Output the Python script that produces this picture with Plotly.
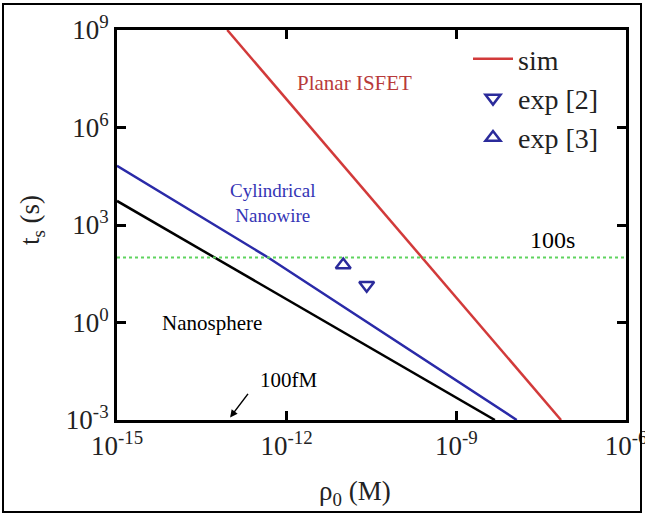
import plotly.graph_objects as go

# Settling time t_s versus analyte concentration rho_0 for three sensor geometries
planar_rho = [8.9e-14, 7.1e-8]
planar_t = [1e9, 1e-3]

cyl_rho = [1e-15, 4.7e-13, 1.17e-8]
cyl_t = [6.6e4, 100, 1e-3]

sphere_rho = [1e-15, 4.8e-9]
sphere_t = [5.5e3, 1e-3]

ref_rho = [1e-15, 1e-6]
ref_t = [100, 100]

exp2_rho = [2.6e-11]
exp2_t = [14]
exp3_rho = [1.0e-11]
exp3_t = [59]

x_exps = [-15, -12, -9, -6]
y_exps = [-3, 0, 3, 6, 9]
x_ticks = [10.0 ** e for e in x_exps]
y_ticks = [10.0 ** e for e in y_exps]
x_ticktext = [f"10<sup>{e}</sup>" for e in x_exps]
y_ticktext = [f"10<sup>{e}</sup>" for e in y_exps]

W, H = 645, 516
L, R, T, B = 117, 626, 30, 420  # plot area in pixels


def px(x):
    return (x - L) / (R - L)


def py(y):
    return (B - y) / (B - T)


SERIF = "'Liberation Serif', 'Times New Roman', Times, serif"
RED = "#d23a3a"
BLUE = "#2a2aa8"
MARK = "#2b2b9b"

fig = go.Figure()

fig.add_trace(go.Scatter(x=planar_rho, y=planar_t, mode="lines", name="sim",
                         line=dict(color=RED, width=2.5)))
fig.add_trace(go.Scatter(x=exp2_rho, y=exp2_t, mode="markers", name="exp [2]",
                         marker=dict(symbol="triangle-down-open", size=13, color=MARK,
                                     line=dict(width=2.5, color=MARK))))
fig.add_trace(go.Scatter(x=exp3_rho, y=exp3_t, mode="markers", name="exp [3]",
                         marker=dict(symbol="triangle-up-open", size=13, color=MARK,
                                     line=dict(width=2.5, color=MARK))))
fig.add_trace(go.Scatter(x=cyl_rho, y=cyl_t, mode="lines", showlegend=False,
                         line=dict(color=BLUE, width=2.5)))
fig.add_trace(go.Scatter(x=sphere_rho, y=sphere_t, mode="lines", showlegend=False,
                         line=dict(color="black", width=2.5)))
fig.add_trace(go.Scatter(x=ref_rho, y=ref_t, mode="lines", showlegend=False,
                         line=dict(color="#5fd35f", width=2, dash="dot")))

axis_common = dict(
    type="log", tickmode="array", automargin=False,
    ticks="inside", ticklen=9, tickwidth=2.5, tickcolor="black",
    showline=True, linewidth=3, linecolor="black", mirror="ticks",
    showgrid=False, zeroline=False, ticklabeloverflow="allow",
    tickfont=dict(family=SERIF, size=27, color="#222"),
)

fig.update_xaxes(range=[-15, -6], tickvals=x_ticks, ticktext=x_ticktext, **axis_common)
fig.update_yaxes(range=[-3, 9], tickvals=y_ticks, ticktext=y_ticktext, **axis_common)

annotations = [
    dict(text="Planar ISFET", x=px(354), y=py(83), font=dict(color="#b83a3a", size=21)),
    dict(text="Cylindrical<br>Nanowire", x=px(272), y=py(203), font=dict(color="#3535b5", size=19)),
    dict(text="Nanosphere", x=px(212), y=py(323), font=dict(color="black", size=21)),
    dict(text="100fM", x=px(288), y=py(380), font=dict(color="black", size=21)),
    dict(text="100s", x=px(552), y=py(240), font=dict(color="black", size=24)),
    dict(text="ρ<sub>0</sub> (M)", x=px(355), y=py(493), font=dict(color="#222", size=27)),
    dict(text="t<sub>s</sub> (s)", x=px(32), y=py(220), textangle=-90,
         font=dict(color="#222", size=27)),
]
for a in annotations:
    a.update(xref="paper", yref="paper", showarrow=False,
             xanchor="center", yanchor="middle")
    a["font"]["family"] = SERIF
    fig.add_annotation(**a)

# arrow marking 100 fM on the concentration axis
fig.add_annotation(x=-13, y=-2.92, xref="x", yref="y", text="", showarrow=True,
                   arrowhead=2, arrowsize=1, arrowwidth=1.5, arrowcolor="black",
                   ax=19, ay=-25)

# outer frame around the figure
fig.add_shape(type="rect", xref="paper", yref="paper",
              x0=px(3), x1=px(641), y0=py(512), y1=py(4),
              line=dict(color="black", width=2))

fig.update_layout(
    width=W, height=H,
    margin=dict(l=L, r=W - R, t=T, b=H - B, autoexpand=False),
    paper_bgcolor="white", plot_bgcolor="white",
    font=dict(family=SERIF),
    showlegend=True,
    legend=dict(x=px(468), y=py(34), xanchor="left", yanchor="top",
                bgcolor="rgba(0,0,0,0)", font=dict(family=SERIF, size=28, color="#222"),
                tracegroupgap=0, itemwidth=40),
)

fig.write_html("out.html")
